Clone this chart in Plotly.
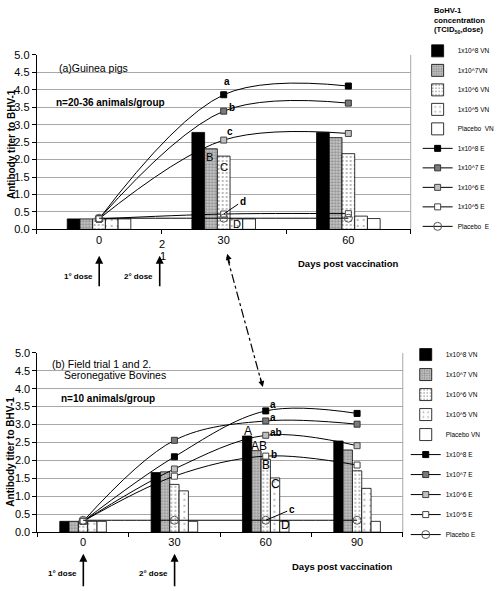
import plotly.graph_objects as go

W, H = 500, 591
FONT = "Arial, Liberation Sans, sans-serif"

# ---------------- data ----------------
gp_days = ['0', '30', '60']
bv_days = ['0', '30', '60', '90']

series_names_vn = ['1x10^8 VN', '1x10^7VN', '1x10^6 VN', '1x10^5 VN', 'Placebo\u00a0 VN']
series_names_e = ['1x10^8 E', '1x10^7 E', '1x10^6 E', '1x10^5 E', 'Placebo\u00a0 E']
series_names_vn2 = ['1x10^8 VN', '1x10^7 VN', '1x10^6 VN', '1x10^5 VN', 'Placebo VN']
series_names_e2 = ['1x10^8 E', '1x10^7 E', '1x10^6 E', '1x10^5 E', 'Placebo E']

# Guinea pigs (a)
gp_vn_1e8 = [0.30, 2.78, 2.78]
gp_vn_1e7 = [0.30, 2.31, 2.63]
gp_vn_1e6 = [0.30, 2.10, 2.17]
gp_vn_1e5 = [0.30, 0.30, 0.38]
gp_vn_plac = [0.30, 0.30, 0.31]

gp_e_1e8 = [0.30, 3.86, 4.11]
gp_e_1e7 = [0.30, 3.39, 3.62]
gp_e_1e6 = [0.30, 2.56, 2.75]
gp_e_1e5 = [0.30, 0.44, 0.45]
gp_e_plac = [0.32, 0.32, 0.32]

# Bovines (b)
bv_vn_1e8 = [0.30, 1.66, 2.68, 2.54]
bv_vn_1e7 = [0.30, 1.68, 2.27, 2.29]
bv_vn_1e6 = [0.30, 1.33, 2.03, 1.71]
bv_vn_1e5 = [0.30, 1.15, 1.51, 1.22]
bv_vn_plac = [0.30, 0.30, 0.30, 0.30]

bv_e_1e8 = [0.30, 2.10, 3.38, 3.31]
bv_e_1e7 = [0.30, 2.56, 3.10, 3.01]
bv_e_1e6 = [0.30, 1.76, 2.70, 2.41]
bv_e_1e5 = [0.30, 1.56, 2.12, 1.87]
bv_e_plac = [0.33, 0.33, 0.33, 0.33]

# ---------------- styles ----------------
bar_styles = [
    dict(color='black'),
    dict(color='#bdbdbd', pattern=dict(shape='.', fgcolor='#555555', bgcolor='#c8c8c8', size=3, solidity=0.45)),
    dict(color='white', pattern=dict(shape='.', fgcolor='#444444', bgcolor='white', size=4, solidity=0.18)),
    dict(color='white', pattern=dict(shape='.', fgcolor='#555555', bgcolor='white', size=6, solidity=0.1)),
    dict(color='white'),
]
line_markers = [
    dict(symbol='square', size=6, color='black', line=dict(color='black', width=1)),
    dict(symbol='square', size=6, color='#7a7a7a', line=dict(color='#333333', width=1)),
    dict(symbol='square', size=6, color='#c0c0c0', line=dict(color='#444444', width=1)),
    dict(symbol='square', size=6, color='white', line=dict(color='#444444', width=1)),
    dict(symbol='circle', size=8, color='rgba(255,255,255,0)', line=dict(color='#555555', width=1)),
]

fig = go.Figure()


def add_panel(days, vn, en, names_vn, names_e, xa, ya, lg, tag):
    for i, (vals, nm) in enumerate(zip(vn, names_vn)):
        st = bar_styles[i]
        marker = dict(color=st['color'], line=dict(color='black', width=0.8))
        if 'pattern' in st:
            marker['pattern'] = st['pattern']
        fig.add_trace(go.Bar(x=days, y=vals, name=nm, marker=marker,
                             xaxis=xa, yaxis=ya, legend=lg,
                             legendgroup=f'{tag}vn{i}'))
    for i, (vals, nm) in enumerate(zip(en, names_e)):
        fig.add_trace(go.Scatter(x=days, y=vals, name=nm, mode='lines+markers',
                                 line=dict(color='black', width=1, shape='spline', smoothing=1),
                                 marker=line_markers[i], xaxis=xa, yaxis=ya, legend=lg,
                                 legendgroup=f'{tag}e{i}'))


add_panel(gp_days, [gp_vn_1e8, gp_vn_1e7, gp_vn_1e6, gp_vn_1e5, gp_vn_plac],
          [gp_e_1e8, gp_e_1e7, gp_e_1e6, gp_e_1e5, gp_e_plac],
          series_names_vn, series_names_e, 'x', 'y', 'legend', 'a')
add_panel(bv_days, [bv_vn_1e8, bv_vn_1e7, bv_vn_1e6, bv_vn_1e5, bv_vn_plac],
          [bv_e_1e8, bv_e_1e7, bv_e_1e6, bv_e_1e5, bv_e_plac],
          series_names_vn2, series_names_e2, 'x2', 'y2', 'legend2', 'b')


def px(x, y):
    return x / W, 1 - y / H


xax = dict(type='category', tickson='boundaries', ticks='outside', ticklen=4,
           tickcolor='black', showline=True, linecolor='black', linewidth=1,
           showgrid=False, zeroline=False, tickfont=dict(size=11, color='black'))
yax = dict(range=[0, 5], dtick=0.5, tickformat='.1f', ticks='outside', ticklen=4,
           tickcolor='black', showline=True, linecolor='black', linewidth=1,
           showgrid=True, gridcolor='#a8a8a8', gridwidth=1, zeroline=False,
           tickfont=dict(size=11, color='black'))

fig.update_layout(
    width=W, height=H,
    margin=dict(l=0, r=0, t=0, b=0),
    paper_bgcolor='white', plot_bgcolor='white',
    font=dict(family=FONT, color='black'),
    barmode='group', bargap=0.49, bargroupgap=0,
    xaxis=dict(xax, domain=[37 / W, 414 / W], anchor='y',
               categoryorder='array', categoryarray=gp_days,
               range=[-0.5, len(gp_days) - 0.5]),
    yaxis=dict(yax, domain=[1 - 228 / H, 1 - 50 / H], anchor='x'),
    xaxis2=dict(xax, domain=[37.7 / W, 406 / W], anchor='y2',
                categoryorder='array', categoryarray=bv_days,
                range=[-0.5, len(bv_days) - 0.5]),
    yaxis2=dict(yax, domain=[1 - 537 / H, 1 - 354 / H], anchor='x2'),
    legend=dict(x=421 / W, y=1 - 31 / H, xanchor='left', yanchor='top',
                font=dict(size=6.5, family=FONT), tracegroupgap=0.5,
                bgcolor='rgba(0,0,0,0)', itemwidth=30),
    legend2=dict(x=409 / W, y=1 - 341 / H, xanchor='left', yanchor='top',
                 font=dict(size=6.5, family=FONT), tracegroupgap=1,
                 bgcolor='rgba(0,0,0,0)', itemwidth=30),
    showlegend=True,
)

shapes = []
# right borders of the plot areas
shapes.append(dict(type='line', xref='x domain', yref='y', x0=1, x1=1, y0=0, y1=5,
                   line=dict(color='#a8a8a8', width=1)))
shapes.append(dict(type='line', xref='x2 domain', yref='y2', x0=1, x1=1, y0=0, y1=5,
                   line=dict(color='#a8a8a8', width=1)))
# dash-dot connector
x0, y0 = px(229, 256)
x1, y1 = px(264, 386)
shapes.append(dict(type='line', xref='paper', yref='paper', x0=x0, y0=y0, x1=x1, y1=y1,
                   line=dict(color='black', width=1.2, dash='dashdot')))
fig.update_layout(shapes=shapes)

ann = []


def text_px(x, y, t, size=10, bold=False, xanchor='center', angle=0):
    xx, yy = px(x, y)
    ann.append(dict(x=xx, y=yy, xref='paper', yref='paper', text=(f'<b>{t}</b>' if bold else t),
                    showarrow=False, xanchor=xanchor, yanchor='middle', textangle=angle,
                    font=dict(size=size, family=FONT, color='black')))


def arrow_px(x, ytip, length, ax=0):
    xx, yy = px(x, ytip)
    ann.append(dict(x=xx, y=yy, xref='paper', yref='paper', text='', showarrow=True,
                    ax=ax, ay=length, arrowhead=2, arrowsize=1, arrowwidth=1.6,
                    arrowcolor='black'))


def lab(xa, ya, xi, yv, t, dx, dy, size=10, bold=True):
    ann.append(dict(x=xi, y=yv, xref=xa, yref=ya, text=(f'<b>{t}</b>' if bold else t),
                    showarrow=False, xshift=dx, yshift=dy,
                    font=dict(size=size, family=FONT, color='black')))


def leader(xa, ya, xi, yv, t, ax, ay):
    ann.append(dict(x=xi, y=yv, xref=xa, yref=ya, text=f'<b>{t}</b>', showarrow=True,
                    arrowhead=0, arrowwidth=1, arrowcolor='black', ax=ax, ay=ay,
                    font=dict(size=10, family=FONT, color='black')))


# y-axis titles
text_px(11, 141, 'Antibody titer to BHV-1', size=10, bold=True, angle=-90)
text_px(11, 455, 'Antibody titer to BHV-1', size=10, bold=True, angle=-90)

# panel texts
text_px(57, 63, '(a)Guinea pigs', size=10.5, xanchor='left')
text_px(54, 98, 'n=20-36 animals/group', size=10, bold=True, xanchor='left')
text_px(50, 365, '(b) Field trial 1 and 2.', size=10.5, xanchor='left')
text_px(62, 377, 'Seronegative Bovines', size=10.5, xanchor='left')
text_px(59, 401, 'n=10 animals/group', size=10, bold=True, xanchor='left')

# x-axis titles
text_px(298, 263, 'Days post vaccination', size=9.5, bold=True, xanchor='left')
text_px(292, 572, 'Days post vaccination', size=9.5, bold=True, xanchor='left')

# day 21 label in panel (a)
text_px(163, 243, '2', size=11)
text_px(164, 255, '1', size=11)

# dose arrows and labels
text_px(79, 276, '1\u00b0 dose', size=8, bold=True)
text_px(140, 276, '2\u00b0 dose', size=8, bold=True)
arrow_px(100, 255, 32)
arrow_px(161, 255, 32)
text_px(63, 579, '1\u00b0 dose', size=8, bold=True)
text_px(155, 579, '2\u00b0 dose', size=8, bold=True)
arrow_px(84, 559, 34)
arrow_px(176, 559, 34)

# dash-dot arrow heads
xx, yy = px(229, 253)
ann.append(dict(x=xx, y=yy, xref='paper', yref='paper', text='', showarrow=True,
                ax=3, ay=11, arrowhead=2, arrowsize=1, arrowwidth=1.2, arrowcolor='black'))
xx, yy = px(265, 389)
ann.append(dict(x=xx, y=yy, xref='paper', yref='paper', text='', showarrow=True,
                ax=-3, ay=-11, arrowhead=2, arrowsize=1, arrowwidth=1.2, arrowcolor='black'))

# legend titles
text_px(435, 5, 'BoHV-1', size=7.7, bold=True, xanchor='left')
text_px(435, 14.5, 'concentration', size=7.7, bold=True, xanchor='left')
text_px(435, 24.5, '(TCID<sub>50</sub>,dose)', size=7.7, bold=True, xanchor='left')

# significance letters panel (a)  (x given as category index)
lab('x', 'y', 1, gp_e_1e8[1], 'a', 3, 13)
lab('x', 'y', 1, gp_e_1e7[1], 'b', 8, 4)
lab('x', 'y', 1, gp_e_1e6[1], 'c', 6, 9)
leader('x', 'y', 1, gp_e_1e5[1], 'd', 19, -13)
lab('x', 'y', 1, gp_vn_1e7[1], 'B', -14, -8, size=11, bold=False)
lab('x', 'y', 1, gp_vn_1e6[1], 'C', 0, -11, size=11, bold=False)
lab('x', 'y', 1, gp_vn_1e5[1], 'D', 13, -5, size=11, bold=False)

# significance letters panel (b)
lab('x2', 'y2', 2, bv_e_1e8[2], 'a', 7, 6)
lab('x2', 'y2', 2, bv_e_1e7[2], 'a', 7, 3)
lab('x2', 'y2', 2, bv_e_1e6[2], 'ab', 10, 3)
lab('x2', 'y2', 2, bv_e_1e5[2], 'b', 8, 2)
leader('x2', 'y2', 2, bv_e_plac[2], 'c', 26, -11)
lab('x2', 'y2', 2, bv_vn_1e8[2], 'A', -18, 5, size=12, bold=False)
lab('x2', 'y2', 2, bv_vn_1e7[2], 'AB', -7, 5, size=12, bold=False)
lab('x2', 'y2', 2, bv_vn_1e6[2], 'B', 0, -6, size=12, bold=False)
lab('x2', 'y2', 2, bv_vn_1e5[2], 'C', 10, -6, size=12, bold=False)
lab('x2', 'y2', 2, bv_vn_plac[2], 'D', 20, -4, size=12, bold=False)

fig.update_layout(annotations=ann)

fig.write_html('out.html', config={'displayModeBar': False},
               post_script="document.body.style.margin='0px';")
